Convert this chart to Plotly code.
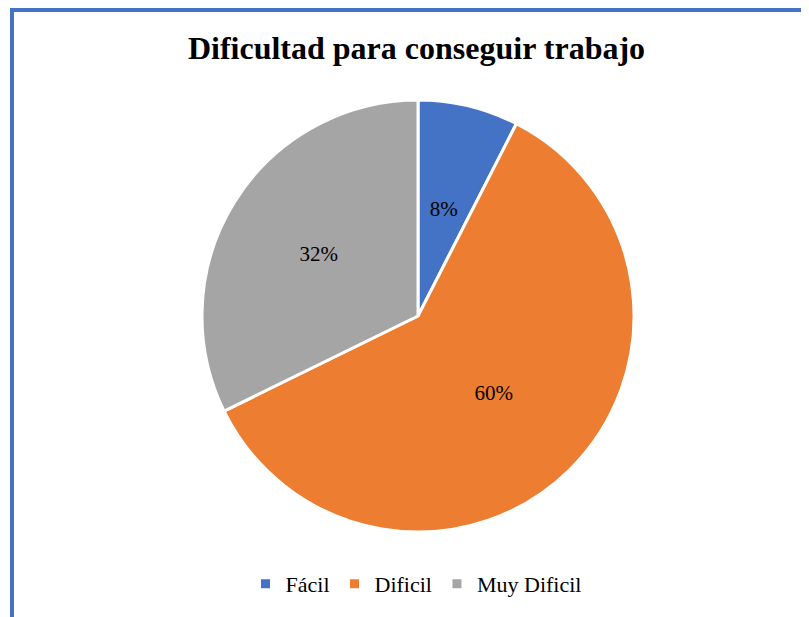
import plotly.graph_objects as go

# Data
categories = ["Fácil", "Dificil", "Muy Dificil"]
counts = [7, 56, 30]
colors = ["#4472C4", "#ED7D31", "#A5A5A5"]
title_text = "Dificultad para conseguir trabajo"

W, H = 809, 617
OFF = 8  # page body margin in the browser
FONT = "Liberation Serif"

CX, CY, R = 418 - OFF, 316 - OFF, 216
R_LABEL = 136


def dom(cx, cy, r):
    return dict(x=[(cx - r) / W, (cx + r) / W], y=[1 - (cy + r) / H, 1 - (cy - r) / H])


pct = "%{percent:.0%}"
main_text = ["", pct, pct]
small_text = [pct, "", ""]

fig = go.Figure()
fig.add_trace(
    go.Pie(
        labels=categories,
        values=counts,
        sort=False,
        direction="clockwise",
        rotation=0,
        marker=dict(colors=colors, line=dict(color="white", width=3)),
        texttemplate=main_text,
        textposition="inside",
        insidetextorientation="horizontal",
        textfont=dict(family=FONT, size=21, color="black"),
        insidetextfont=dict(family=FONT, size=21, color="black"),
        hoverinfo="label+percent",
        domain=dom(CX, CY, R),
    )
)
# transparent copy used only to place the small slice's label nearer the centre
fig.add_trace(
    go.Pie(
        labels=categories,
        values=counts,
        sort=False,
        direction="clockwise",
        rotation=0,
        marker=dict(colors=["rgba(0,0,0,0)"] * 3, line=dict(width=0)),
        texttemplate=small_text,
        textposition="inside",
        insidetextorientation="horizontal",
        textfont=dict(family=FONT, size=21, color="black"),
        insidetextfont=dict(family=FONT, size=21, color="black"),
        hoverinfo="skip",
        showlegend=False,
        domain=dom(CX, CY, R_LABEL),
    )
)

fig.update_layout(
    width=W,
    height=H,
    margin=dict(l=0, r=0, t=0, b=0),
    paper_bgcolor="white",
    plot_bgcolor="white",
    font=dict(family=FONT, color="black"),
    title=dict(
        text="<b>" + title_text + "</b>",
        font=dict(family=FONT, size=32, color="black"),
        x=(416.5 - OFF) / W, xanchor="center",
        y=1 - (48 - OFF) / H, yanchor="middle",
        xref="paper", yref="container",
    ),
    legend=dict(
        orientation="h",
        x=(416 - OFF) / W, xanchor="center",
        y=1 - (584 - OFF) / H, yanchor="middle",
        font=dict(family=FONT, size=22, color="black"),
        itemwidth=30,
        tracegroupgap=0,
    ),
    shapes=[
        dict(type="line", xref="paper", yref="paper",
             x0=(12 - OFF) / W, y0=0, x1=(12 - OFF) / W, y1=1 - (10 - OFF) / H,
             line=dict(color="#4472C4", width=4)),
        dict(type="line", xref="paper", yref="paper",
             x0=(10 - OFF) / W, y0=1 - (10 - OFF) / H, x1=1, y1=1 - (10 - OFF) / H,
             line=dict(color="#4472C4", width=4)),
    ],
)

fig.write_html("out.html")
